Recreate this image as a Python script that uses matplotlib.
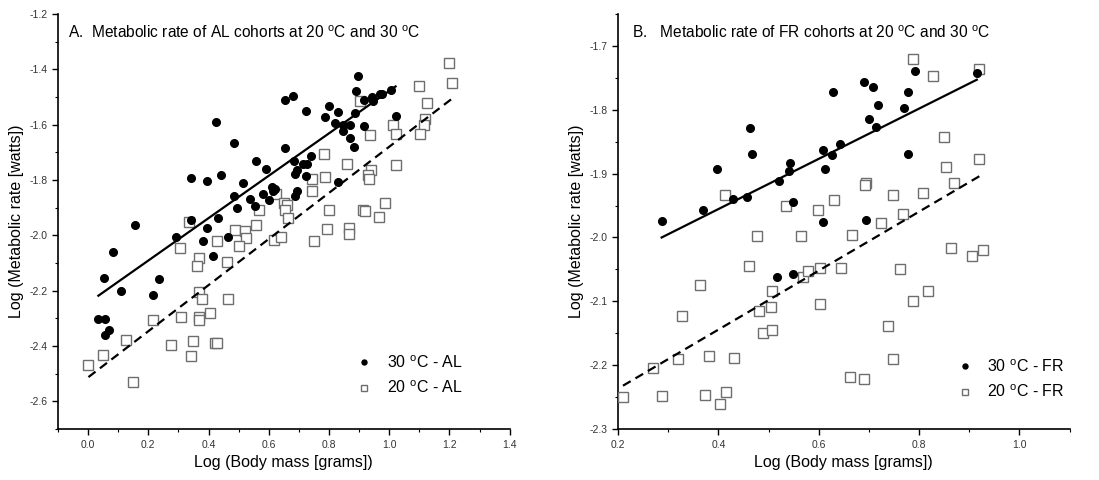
"""
Metabolic rate vs body mass, AL and FR cohorts at 20 and 30 degC
"""

import numpy as np
import matplotlib
matplotlib.use("Agg")
import matplotlib.pyplot as plt
from matplotlib.ticker import MultipleLocator, FormatStrFormatter

plt.rcParams["font.family"] = ["Liberation Sans", "DejaVu Sans"]
plt.rcParams["mathtext.fontset"] = "custom"
plt.rcParams["mathtext.rm"] = "Liberation Sans"

# ---- Panel A: AL cohorts ----
al30_x = [0.155, 0.292, 0.343, 0.343, 0.396, 0.396, 0.380, 0.425, 0.441, 0.431,
          0.466, 0.485, 0.514, 0.486, 0.494, 0.537, 0.559, 0.555, 0.582, 0.592,
          0.600, 0.612, 0.622, 0.614, 0.654, 0.655, 0.681, 0.682, 0.688, 0.693,
          0.695, 0.688, 0.712, 0.723, 0.726, 0.723, 0.739, 0.786, 0.799, 0.819,
          0.830, 0.830, 0.846, 0.846, 0.870, 0.870, 0.882, 0.887, 0.888, 0.896,
          0.915, 0.916, 0.943, 0.945, 0.968, 0.977, 1.006, 1.021,
          0.081, 0.054, 0.415, 0.236, 0.109, 0.214, 0.034, 0.056, 0.069, 0.056]
al30_y = [-1.964, -2.007, -1.944, -1.794, -1.804, -1.973, -2.019, -1.592, -1.783, -1.937,
          -2.007, -1.665, -1.810, -1.858, -1.902, -1.867, -1.733, -1.893, -1.850, -1.760,
          -1.873, -1.825, -1.832, -1.840, -1.510, -1.686, -1.495, -1.731, -1.779, -1.765,
          -1.839, -1.859, -1.742, -1.552, -1.742, -1.785, -1.715, -1.572, -1.532, -1.594,
          -1.556, -1.807, -1.600, -1.622, -1.602, -1.648, -1.680, -1.559, -1.479, -1.425,
          -1.510, -1.606, -1.501, -1.513, -1.491, -1.488, -1.476, -1.567,
          -2.061, -2.153, -2.076, -2.158, -2.201, -2.214, -2.302, -2.301, -2.343, -2.361]

al20_x = [1.197, 1.209, 1.098, 1.125, 0.902, 1.014, 1.021, 1.118, 1.114, 1.103,
          0.935, 1.023, 0.782, 0.861, 0.938, 0.928, 0.933, 0.745, 0.787, 0.745,
          0.625, 0.650, 0.662, 0.653, 0.664, 0.566, 0.800, 0.912, 0.921, 0.986,
          0.966, 0.334, 0.557, 0.489, 0.520, 0.794, 0.866, 0.866, 0.427, 0.524,
          0.617, 0.640, 0.751,
          0.306, 0.502, 0.369, 0.362, 0.460, 0.369, 0.377, 0.463, 0.404, 0.310,
          0.368, 0.368, 0.217, 0.126, 0.347, 0.275, 0.421, 0.427, 0.050, 0.340,
          0.001, 0.149]
al20_y = [-1.376, -1.450, -1.462, -1.522, -1.515, -1.602, -1.634, -1.579, -1.601, -1.634,
          -1.639, -1.747, -1.707, -1.741, -1.765, -1.782, -1.795, -1.795, -1.788, -1.838,
          -1.852, -1.884, -1.891, -1.908, -1.937, -1.909, -1.907, -1.908, -1.913, -1.884,
          -1.932, -1.952, -1.964, -1.981, -1.985, -1.978, -1.973, -1.994, -2.022, -2.010,
          -2.018, -2.007, -2.019,
          -2.044, -2.037, -2.080, -2.110, -2.097, -2.206, -2.230, -2.230, -2.282, -2.296,
          -2.296, -2.305, -2.305, -2.377, -2.383, -2.397, -2.390, -2.390, -2.432, -2.437,
          -2.470, -2.528]

al30_fit_x = [0.034, 1.021]
al30_fit_y = [-2.218, -1.462]
al20_fit_x = [0.001, 1.211]
al20_fit_y = [-2.512, -1.504]

# ---- Panel B: FR cohorts ----
fr30_x = [0.287, 0.370, 0.397, 0.429, 0.458, 0.463, 0.468, 0.520, 0.540, 0.543,
          0.549, 0.609, 0.613, 0.609, 0.626, 0.628, 0.642, 0.691, 0.694, 0.700,
          0.708, 0.715, 0.719, 0.770, 0.777, 0.778, 0.791, 0.915, 0.516, 0.549]
fr30_y = [-1.974, -1.957, -1.892, -1.940, -1.936, -1.829, -1.869, -1.911, -1.896, -1.883,
          -1.945, -1.863, -1.893, -1.975, -1.871, -1.773, -1.854, -1.757, -1.973, -1.815,
          -1.765, -1.827, -1.793, -1.797, -1.773, -1.869, -1.740, -1.743, -2.062, -2.057]

fr20_x = [0.788, 0.828, 0.920, 0.850, 0.853, 0.920, 0.869, 0.808, 0.748, 0.768,
          0.694, 0.693, 0.725, 0.666, 0.630, 0.598, 0.535, 0.414, 0.478, 0.565,
          0.863, 0.906, 0.928, 0.462, 0.569, 0.578, 0.602, 0.645, 0.761, 0.364,
          0.507, 0.818, 0.788, 0.602, 0.328, 0.504, 0.482, 0.488, 0.507, 0.738,
          0.381, 0.432, 0.320, 0.749, 0.269, 0.663, 0.690, 0.210, 0.288, 0.374,
          0.415, 0.403]
fr20_y = [-1.721, -1.747, -1.737, -1.842, -1.890, -1.877, -1.914, -1.931, -1.934, -1.963,
          -1.914, -1.918, -1.977, -1.996, -1.942, -1.957, -1.950, -1.933, -1.998, -1.998,
          -2.017, -2.029, -2.019, -2.044, -2.062, -2.052, -2.047, -2.047, -2.050, -2.075,
          -2.083, -2.083, -2.099, -2.104, -2.123, -2.109, -2.115, -2.149, -2.145, -2.139,
          -2.185, -2.188, -2.191, -2.191, -2.204, -2.219, -2.221, -2.250, -2.248, -2.247,
          -2.242, -2.261]

fr30_fit_x = [0.287, 0.915]
fr30_fit_y = [-2.000, -1.753]
fr20_fit_x = [0.210, 0.929]
fr20_fit_y = [-2.232, -1.900]

DEG = r"$^{\rm o}$C"
SQ_EDGE = "#6e6e6e"

fig = plt.figure(figsize=(10.99, 4.8), dpi=100)
axA = fig.add_axes([0.0528, 0.106, 0.411, 0.865])
axB = fig.add_axes([0.5623, 0.106, 0.411, 0.865])


def draw_panel(ax, x30, y30, x20, y20, f30x, f30y, f20x, f20y, tag):
    ax.plot(x20, y20, ls="none", marker="s", ms=6.5, mfc="white", mec=SQ_EDGE,
            mew=1.0, label=f"20 {DEG} - {tag}", zorder=3)
    ax.plot(x30, y30, ls="none", marker="o", ms=5.5, color="black",
            label=f"30 {DEG} - {tag}", zorder=4)
    ax.plot(f30x, f30y, color="black", lw=1.6, zorder=5)
    ax.plot(f20x, f20y, color="black", lw=1.6, ls=(0, (4, 2.5)), zorder=5)
    for s in ("top", "right"):
        ax.spines[s].set_visible(False)
    for s in ("left", "bottom"):
        ax.spines[s].set_linewidth(1.2)
    ax.tick_params(which="major", direction="out", length=4, width=1,
                   labelsize=7.5, labelcolor="#333333")
    ax.tick_params(which="minor", direction="out", length=2.5, width=0.8)
    ax.set_xlabel("Log (Body mass [grams])", fontsize=11.5)
    ax.set_ylabel("Log (Metabolic rate [watts])", fontsize=11.5)


draw_panel(axA, al30_x, al30_y, al20_x, al20_y,
           al30_fit_x, al30_fit_y, al20_fit_x, al20_fit_y, "AL")
axA.set_xlim(-0.1, 1.4)
axA.set_ylim(-2.7, -1.2)
axA.xaxis.set_major_locator(MultipleLocator(0.2))
axA.xaxis.set_minor_locator(MultipleLocator(0.1))
axA.yaxis.set_major_locator(MultipleLocator(0.2))
axA.yaxis.set_minor_locator(MultipleLocator(0.1))
axA.xaxis.set_major_formatter(FormatStrFormatter("%.1f"))
axA.yaxis.set_major_formatter(FormatStrFormatter("%.1f"))
axA.text(0.022, 0.975, f"A.  Metabolic rate of AL cohorts at 20 {DEG} and 30 {DEG}",
         transform=axA.transAxes, ha="left", va="top", fontsize=11.2)

draw_panel(axB, fr30_x, fr30_y, fr20_x, fr20_y,
           fr30_fit_x, fr30_fit_y, fr20_fit_x, fr20_fit_y, "FR")
axB.set_xlim(0.2, 1.1)
axB.set_ylim(-2.3, -1.65)
axB.xaxis.set_major_locator(MultipleLocator(0.2))
axB.xaxis.set_minor_locator(MultipleLocator(0.1))
axB.yaxis.set_major_locator(MultipleLocator(0.1))
axB.yaxis.set_minor_locator(MultipleLocator(0.05))
axB.xaxis.set_major_formatter(FormatStrFormatter("%.1f"))
axB.yaxis.set_major_formatter(FormatStrFormatter("%.1f"))
axB.text(0.03, 0.975, f"B.   Metabolic rate of FR cohorts at 20 {DEG} and 30 {DEG}",
         transform=axB.transAxes, ha="left", va="top", fontsize=11.2)

for ax, anchor in ((axA, (0.625, 0.215)), (axB, (0.715, 0.205))):
    h, l = ax.get_legend_handles_labels()
    leg = ax.legend(h[::-1], l[::-1], loc="upper left", bbox_to_anchor=anchor,
                    frameon=False, fontsize=11.5, handlelength=1.2,
                    handletextpad=0.8, labelspacing=0.55, markerscale=0.65)

fig.savefig("out.png", dpi=100)
